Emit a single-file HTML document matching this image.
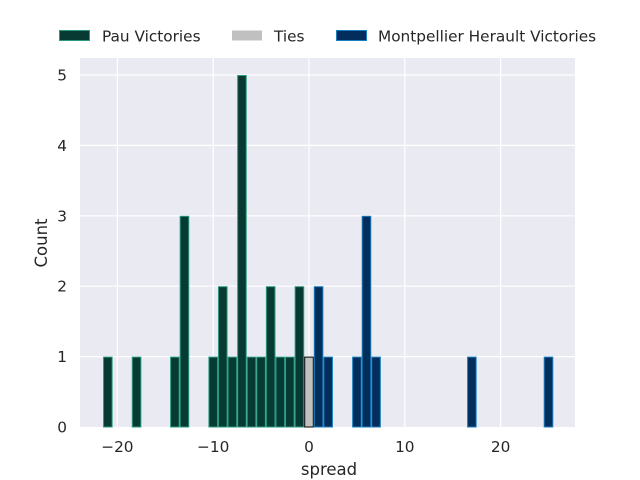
<!DOCTYPE html>
<html><head><meta charset="utf-8"><style>body{margin:0;background:#fff}svg{display:block}text{font-family:"DejaVu Sans","Liberation Sans",sans-serif;fill:#262626}</style></head>
<body>
<svg width="640" height="480" xmlns="http://www.w3.org/2000/svg">
<rect x="80" y="58" width="495" height="369" fill="#eaeaf2"/>
<g stroke="#fff" stroke-width="1.2">
<line x1="117.4" y1="58" x2="117.4" y2="427"/>
<line x1="213.2" y1="58" x2="213.2" y2="427"/>
<line x1="309" y1="58" x2="309" y2="427"/>
<line x1="404.8" y1="58" x2="404.8" y2="427"/>
<line x1="500.6" y1="58" x2="500.6" y2="427"/>
<line x1="80" y1="356.6" x2="575" y2="356.6"/>
<line x1="80" y1="286.2" x2="575" y2="286.2"/>
<line x1="80" y1="215.8" x2="575" y2="215.8"/>
<line x1="80" y1="145.4" x2="575" y2="145.4"/>
<line x1="80" y1="75" x2="575" y2="75"/>
</g>
<g id="bars"></g>
<g font-size="15.3" text-anchor="middle">
<text x="117.4" y="452">−20</text><text x="213.2" y="452">−10</text><text x="309" y="452">0</text><text x="404.8" y="452">10</text><text x="500.6" y="452">20</text>
</g>
<g font-size="15.3" text-anchor="end">
<text x="67" y="432.5">0</text><text x="67" y="362">1</text><text x="67" y="291.7">2</text><text x="67" y="221.3">3</text><text x="67" y="151">4</text><text x="67" y="80.5">5</text>
</g>
<text x="329" y="475" font-size="16.5" text-anchor="middle">spread</text>
<text transform="translate(47,243) rotate(-90)" font-size="16.5" text-anchor="middle">Count</text>
<rect x="59.5" y="30.5" width="30" height="10" fill="#073a33" stroke="#2a9a80"/>
<text x="102" y="41.5" font-size="15.3">Pau Victories</text>
<rect x="232" y="30.5" width="30" height="10" fill="#c0c0c0"/>
<text x="274" y="41.5" font-size="15.3">Ties</text>
<rect x="336.5" y="30.5" width="30" height="10" fill="#032d5a" stroke="#1a7fc0"/>
<text x="378" y="41.5" font-size="15.3">Montpellier Herault Victories</text>
</svg>
<script>
var g=document.getElementById('bars'),ns='http://www.w3.org/2000/svg';
function b(v,c,f,s){var x0=309+(v-0.5)*9.58,h=c*70.4,r=document.createElementNS(ns,'rect');
r.setAttribute('x',x0+0.5);r.setAttribute('y',427-h+0.5);r.setAttribute('width',9.58-1);r.setAttribute('height',h-0.5);
r.setAttribute('fill',f);r.setAttribute('stroke',s);r.setAttribute('stroke-width','1');g.appendChild(r);}
[[-21,1],[-18,1],[-14,1],[-13,3],[-10,1],[-9,2],[-8,1],[-7,5],[-6,1],[-5,1],[-4,2],[-3,1],[-2,1],[-1,2]].forEach(function(a){b(a[0],a[1],'#073a33','#2a9a80');});
b(0,1,'#c0c0c0','#000');
[[1,2],[2,1],[5,1],[6,3],[7,1],[17,1],[25,1]].forEach(function(a){b(a[0],a[1],'#032d5a','#1a7fc0');});
</script>
</body></html>
